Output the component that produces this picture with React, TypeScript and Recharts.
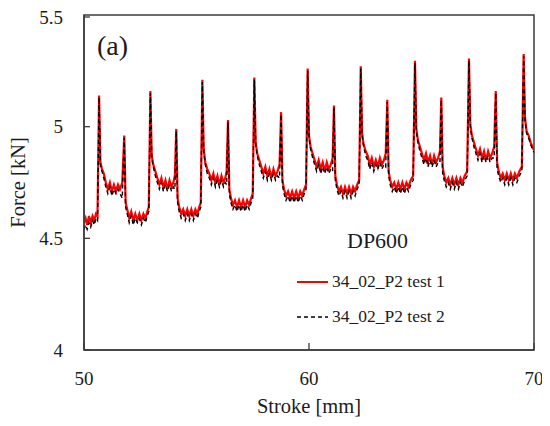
import React from 'react';
import { LineChart, Line, XAxis, YAxis, ReferenceArea, Legend } from 'recharts';

// Stroke positions [mm]
const strokeMm: number[] = [
  50.00, 50.07, 50.14, 50.22, 50.30, 50.38, 50.46, 50.53, 50.60,
  50.67, 50.73, 50.80, 50.88, 50.97, 51.06, 51.15, 51.24, 51.33, 51.42, 51.51, 51.60, 51.70, 51.79, 51.85, 51.92, 52.01, 52.10, 52.19, 52.28, 52.37, 52.46, 52.55, 52.64, 52.73, 52.81, 52.88,
  52.95, 53.01, 53.08, 53.17, 53.26, 53.35, 53.44, 53.53, 53.62, 53.71, 53.80, 53.89, 53.97, 54.04, 54.10, 54.16, 54.23, 54.32, 54.41, 54.50, 54.59, 54.68, 54.77, 54.86, 54.95, 55.04, 55.12, 55.19,
  55.26, 55.32, 55.39, 55.48, 55.57, 55.66, 55.75, 55.84, 55.93, 56.02, 56.11, 56.20, 56.28, 56.34, 56.40, 56.46, 56.53, 56.62, 56.71, 56.80, 56.89, 56.98, 57.07, 57.16, 57.25, 57.34, 57.43, 57.50,
  57.57, 57.63, 57.70, 57.79, 57.88, 57.97, 58.06, 58.15, 58.24, 58.33, 58.42, 58.51, 58.60, 58.69, 58.76, 58.82, 58.89, 58.98, 59.07, 59.16, 59.25, 59.34, 59.43, 59.52, 59.61, 59.70, 59.79, 59.87,
  59.94, 60.00, 60.07, 60.16, 60.25, 60.34, 60.43, 60.52, 60.61, 60.70, 60.79, 60.88, 60.97, 61.05, 61.11, 61.17, 61.24, 61.33, 61.42, 61.51, 61.60, 61.69, 61.78, 61.87, 61.96, 62.05, 62.14, 62.23,
  62.30, 62.36, 62.43, 62.52, 62.61, 62.70, 62.79, 62.88, 62.97, 63.06, 63.15, 63.24, 63.33, 63.41, 63.48, 63.54, 63.61, 63.70, 63.79, 63.88, 63.97, 64.06, 64.15, 64.24, 64.33, 64.42, 64.52, 64.63,
  64.71, 64.77, 64.84, 64.93, 65.02, 65.11, 65.20, 65.29, 65.38, 65.47, 65.56, 65.65, 65.74, 65.82, 65.88, 65.94, 66.01, 66.10, 66.19, 66.28, 66.37, 66.46, 66.55, 66.64, 66.73, 66.82, 66.92, 67.03,
  67.11, 67.17, 67.24, 67.33, 67.42, 67.51, 67.60, 67.69, 67.78, 67.87, 67.96, 68.05, 68.14, 68.23, 68.30, 68.36, 68.43, 68.52, 68.61, 68.70, 68.79, 68.88, 68.97, 69.06, 69.15, 69.24, 69.35, 69.46,
  69.54, 69.60, 69.67, 69.76, 69.85, 69.93, 70.00,
];

// Force, 34_02_P2 test 1 [kN]
const forceTest1: number[] = [
  4.57, 4.59, 4.56, 4.60, 4.57, 4.60, 4.58, 4.61, 4.60,
  5.14, 4.84, 4.81, 4.79, 4.75, 4.72, 4.75, 4.71, 4.74, 4.71, 4.74, 4.72, 4.75, 4.96, 4.66, 4.63, 4.59, 4.62, 4.58, 4.61, 4.58, 4.61, 4.58, 4.61, 4.59, 4.62, 4.64,
  5.16, 4.87, 4.83, 4.80, 4.77, 4.74, 4.77, 4.73, 4.76, 4.72, 4.76, 4.73, 4.75, 4.78, 4.99, 4.68, 4.64, 4.61, 4.63, 4.60, 4.63, 4.60, 4.63, 4.60, 4.63, 4.61, 4.64, 4.66,
  5.21, 4.90, 4.84, 4.81, 4.79, 4.76, 4.79, 4.75, 4.78, 4.74, 4.78, 4.75, 4.77, 4.80, 5.03, 4.72, 4.68, 4.65, 4.67, 4.64, 4.67, 4.64, 4.67, 4.64, 4.67, 4.65, 4.68, 4.70,
  5.22, 4.93, 4.88, 4.85, 4.82, 4.79, 4.82, 4.78, 4.81, 4.77, 4.81, 4.78, 4.80, 4.83, 5.065, 4.76, 4.72, 4.69, 4.71, 4.68, 4.71, 4.68, 4.71, 4.68, 4.71, 4.69, 4.72, 4.74,
  5.26, 4.96, 4.91, 4.88, 4.85, 4.82, 4.85, 4.81, 4.84, 4.80, 4.84, 4.81, 4.83, 4.86, 5.095, 4.78, 4.74, 4.71, 4.73, 4.70, 4.73, 4.70, 4.73, 4.70, 4.73, 4.71, 4.74, 4.76,
  5.27, 4.97, 4.92, 4.89, 4.87, 4.83, 4.86, 4.82, 4.85, 4.82, 4.86, 4.83, 4.85, 4.88, 5.12, 4.80, 4.76, 4.73, 4.75, 4.72, 4.75, 4.72, 4.75, 4.72, 4.75, 4.73, 4.76, 4.78,
  5.295, 4.99, 4.94, 4.91, 4.88, 4.85, 4.88, 4.84, 4.87, 4.83, 4.87, 4.84, 4.86, 4.89, 5.13, 4.82, 4.78, 4.75, 4.77, 4.74, 4.77, 4.74, 4.77, 4.74, 4.77, 4.75, 4.78, 4.80,
  5.305, 5.01, 4.96, 4.93, 4.90, 4.87, 4.90, 4.86, 4.89, 4.85, 4.89, 4.86, 4.88, 4.91, 5.16, 4.84, 4.80, 4.77, 4.79, 4.76, 4.79, 4.76, 4.79, 4.76, 4.79, 4.77, 4.80, 4.82,
  5.325, 5.04, 4.98, 4.96, 4.93, 4.91, 4.895,
];

// Force, 34_02_P2 test 2 [kN]
const forceTest2: number[] = [
  4.54, 4.56, 4.54, 4.57, 4.55, 4.58, 4.56, 4.59, 4.58,
  5.13, 4.83, 4.80, 4.77, 4.73, 4.70, 4.73, 4.69, 4.72, 4.70, 4.72, 4.70, 4.68, 4.95, 4.64, 4.61, 4.57, 4.60, 4.56, 4.59, 4.57, 4.59, 4.56, 4.59, 4.57, 4.60, 4.62,
  5.15, 4.86, 4.82, 4.78, 4.75, 4.72, 4.75, 4.71, 4.74, 4.71, 4.74, 4.71, 4.73, 4.72, 4.98, 4.66, 4.62, 4.59, 4.61, 4.58, 4.61, 4.58, 4.61, 4.58, 4.61, 4.59, 4.62, 4.64,
  5.20, 4.89, 4.83, 4.79, 4.77, 4.74, 4.77, 4.73, 4.76, 4.73, 4.76, 4.73, 4.75, 4.74, 5.02, 4.70, 4.66, 4.63, 4.65, 4.62, 4.65, 4.62, 4.65, 4.62, 4.65, 4.63, 4.66, 4.68,
  5.21, 4.92, 4.87, 4.83, 4.80, 4.77, 4.80, 4.76, 4.79, 4.76, 4.79, 4.76, 4.78, 4.77, 5.055, 4.74, 4.70, 4.67, 4.69, 4.66, 4.69, 4.66, 4.69, 4.66, 4.69, 4.67, 4.70, 4.72,
  5.25, 4.95, 4.90, 4.86, 4.83, 4.80, 4.83, 4.79, 4.82, 4.79, 4.82, 4.79, 4.81, 4.80, 5.085, 4.76, 4.72, 4.69, 4.71, 4.68, 4.71, 4.68, 4.71, 4.68, 4.71, 4.69, 4.72, 4.74,
  5.26, 4.96, 4.91, 4.87, 4.85, 4.81, 4.84, 4.80, 4.83, 4.81, 4.84, 4.81, 4.83, 4.82, 5.11, 4.78, 4.74, 4.71, 4.73, 4.70, 4.73, 4.70, 4.73, 4.70, 4.73, 4.71, 4.74, 4.76,
  5.285, 4.98, 4.93, 4.89, 4.86, 4.83, 4.86, 4.82, 4.85, 4.82, 4.85, 4.82, 4.84, 4.84, 5.12, 4.79, 4.76, 4.73, 4.75, 4.72, 4.75, 4.72, 4.75, 4.72, 4.75, 4.73, 4.76, 4.78,
  5.295, 5.00, 4.95, 4.91, 4.88, 4.85, 4.88, 4.84, 4.87, 4.84, 4.87, 4.84, 4.86, 4.86, 5.15, 4.81, 4.78, 4.75, 4.77, 4.74, 4.77, 4.74, 4.77, 4.74, 4.77, 4.75, 4.78, 4.80,
  5.315, 5.03, 4.97, 4.95, 4.92, 4.90, 4.885,
];

const xTicks: number[] = [50, 60, 70];
const yTicks: number[] = [4, 4.5, 5, 5.5];
const seriesNames: string[] = ['34_02_P2 test 1', '34_02_P2 test 2'];

const n = Math.min(strokeMm.length, forceTest1.length, forceTest2.length);
const rows = strokeMm.slice(0, n).map((x, i) => ({ x, t1: forceTest1[i], t2: forceTest2[i] }));

const FONT = "'Liberation Serif', 'DejaVu Serif', serif";
const TEXT = '#1c1c1c';
const FRAME = '#3c3c3c';
const fontStyle = { fontFamily: FONT };

const XTick = (props: any) => {
  const { x, y, payload } = props;
  return (
    <g>
      <line x1={x} x2={x} y1={y} y2={y - 7} stroke={FRAME} strokeWidth={1.3} />
      <text x={x} y={y + 35} textAnchor="middle" style={fontStyle} fontSize={19} fill={TEXT}>
        {payload.value}
      </text>
    </g>
  );
};

const YTick = (props: any) => {
  const { x, y, payload } = props;
  return (
    <g>
      <line x1={x} x2={x + 6} y1={y} y2={y} stroke={FRAME} strokeWidth={1.3} />
      <text x={x - 21} y={y} dy="0.35em" textAnchor="end" style={fontStyle} fontSize={19} fill={TEXT}>
        {payload.value}
      </text>
    </g>
  );
};

const LegendContent = (props: any) => {
  const payload = props.payload || [];
  return (
    <svg width={160} height={64} style={{ display: 'block' }}>
      {payload.map((p: any, i: number) => {
        const ly = i === 0 ? 17 : 52;
        const dashed = i === 1;
        return (
          <g key={i}>
            <line
              x1={2}
              x2={33}
              y1={ly}
              y2={ly}
              stroke={dashed ? '#000000' : '#ff0000'}
              strokeWidth={dashed ? 1.4 : 2}
              strokeDasharray={dashed ? '4 3' : undefined}
            />
            <text x={37} y={ly + 5} style={fontStyle} fontSize={17.5} fill={TEXT}>
              {p.value}
            </text>
          </g>
        );
      })}
    </svg>
  );
};

export default function App() {
  return (
    <div style={{ position: 'relative', width: 534, height: 410, fontFamily: FONT }}>
      <LineChart width={534} height={410} data={rows} margin={{ top: 7, right: 8, bottom: 0, left: 0 }} style={fontStyle}>
        <XAxis
          type="number"
          dataKey="x"
          domain={[50, 70]}
          ticks={xTicks}
          allowDataOverflow
          height={68}
          tickSize={0}
          tickMargin={0}
          tickLine={false}
          axisLine={{ stroke: FRAME, strokeWidth: 1.5 }}
          tick={<XTick />}
          label={{ value: 'Stroke [mm]', position: 'insideBottom', offset: 5, fontSize: 20.5, fill: TEXT, style: fontStyle }}
        />
        <YAxis
          type="number"
          domain={[4, 5.5]}
          ticks={yTicks}
          allowDataOverflow
          width={76}
          tickSize={0}
          tickMargin={0}
          tickLine={false}
          axisLine={{ stroke: FRAME, strokeWidth: 1.5 }}
          tick={<YTick />}
          label={{
            value: 'Force [kN]',
            angle: -90,
            position: 'insideLeft',
            offset: 10,
            fontSize: 20.5,
            fill: TEXT,
            style: { textAnchor: 'middle', fontFamily: FONT },
          }}
        />
        <Line
          type="linear"
          dataKey="t1"
          name={seriesNames[0]}
          stroke="#ff0000"
          strokeWidth={2.2}
          dot={false}
          activeDot={false}
          isAnimationActive={false}
        />
        <Line
          type="linear"
          dataKey="t2"
          name={seriesNames[1]}
          stroke="#000000"
          strokeWidth={1.4}
          strokeDasharray="4 3"
          dot={false}
          activeDot={false}
          isAnimationActive={false}
        />
        <ReferenceArea x1={50} x2={70} y1={4} y2={5.5} fill="none" stroke={FRAME} strokeWidth={1.5} ifOverflow="visible" />
        <Legend
          layout="vertical"
          align="center"
          verticalAlign="middle"
          content={<LegendContent />}
          wrapperStyle={{ left: 287, top: 257, width: 160, height: 64 }}
        />
      </LineChart>
      <svg
        width={534}
        height={410}
        style={{ position: 'absolute', left: 0, top: 0, pointerEvents: 'none' }}
      >
        <text x={89} y={47} style={fontStyle} fontSize={28} fill={TEXT}>(a)</text>
        <text x={339} y={240} style={fontStyle} fontSize={22} fill={TEXT}>DP600</text>
      </svg>
    </div>
  );
}
